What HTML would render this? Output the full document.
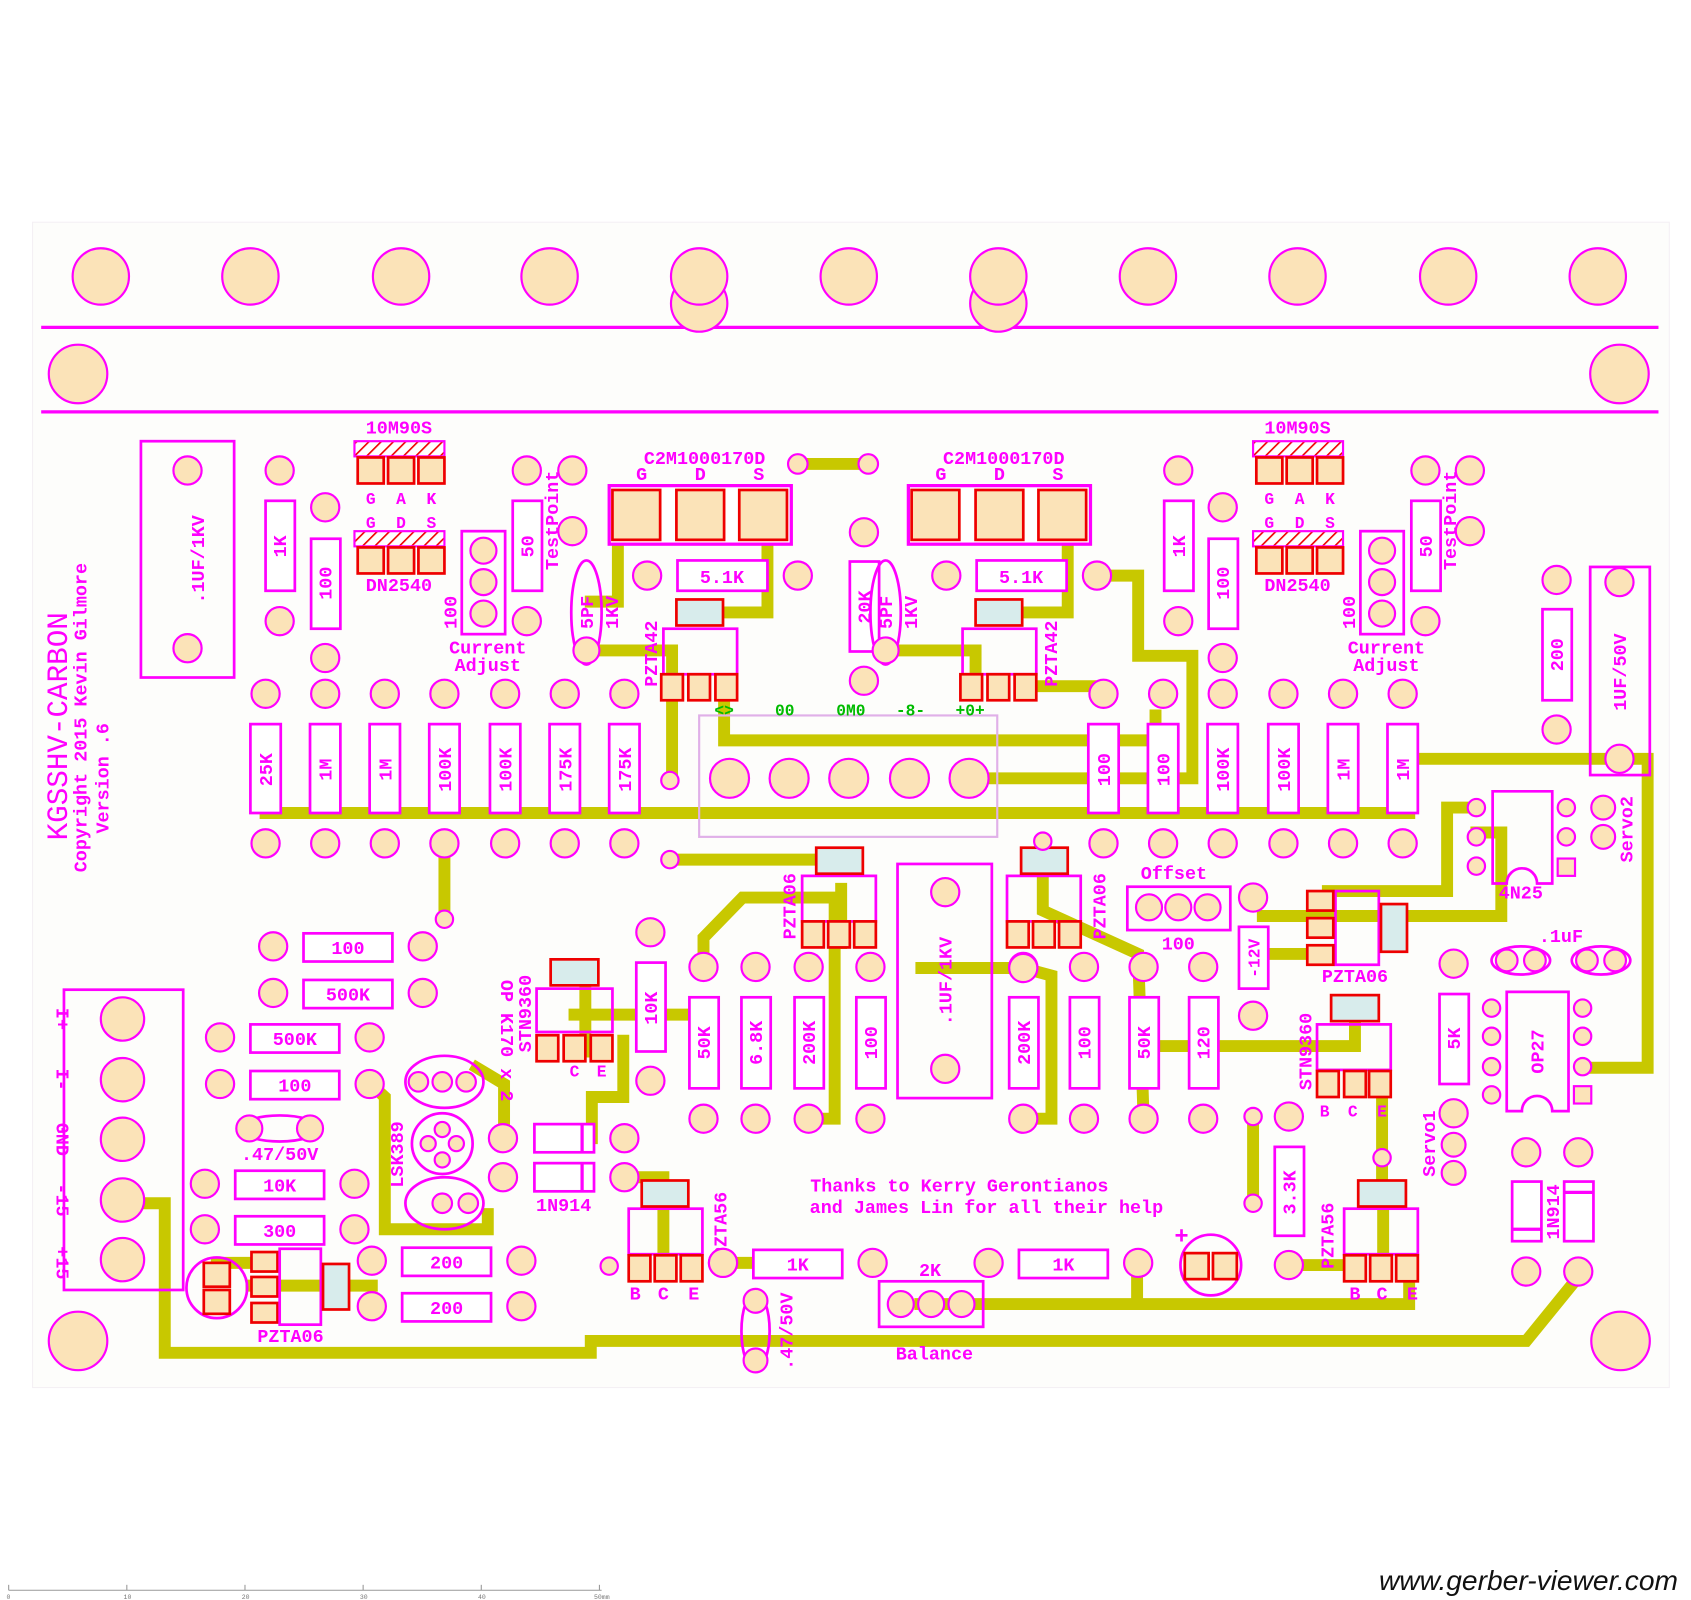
<!DOCTYPE html>
<html><head><meta charset="utf-8"><style>
html,body{margin:0;padding:0;background:#fff}
svg{display:block}
.p{fill:#fbe3b8;stroke:#f0f;stroke-width:2}
.r{fill:none;stroke:#f0f;stroke-width:2.5}
.rw{fill:#fff;stroke:#f0f;stroke-width:2.5}
.t{fill:none;stroke:#c8c800;stroke-width:11;stroke-linejoin:miter;stroke-linecap:square}
.sq{fill:#fbe3b8;stroke:#e00;stroke-width:2.5}
.tab{fill:#d8ecec;stroke:#e00;stroke-width:2.5}
text{font-family:"Liberation Mono",monospace;fill:#f0f;font-weight:bold}
.l{font-size:17px}
.s{font-size:15px}
</style></head><body>
<svg width="1691" height="1600" viewBox="0 0 1560 1476" preserveAspectRatio="none" xmlns="http://www.w3.org/2000/svg">
<defs>
<pattern id="h" width="8" height="8" patternUnits="userSpaceOnUse" patternTransform="rotate(45)"><rect width="8" height="8" fill="#fff"/><line x1="0" y1="0" x2="0" y2="8" stroke="#e00" stroke-width="3"/></pattern>
</defs>
<rect x="30" y="205" width="1510" height="1075" fill="#fdfdfb" stroke="#f4f0f4"/>
<line x1="38" y1="302" x2="1530" y2="302" stroke="#f0f" stroke-width="3"/>
<line x1="38" y1="380" x2="1530" y2="380" stroke="#f0f" stroke-width="3"/>

<!-- traces -->
<g class="t">
<polyline points="245,750 1300,750"/>
<polyline points="410,778 410,848"/>
<polyline points="736,428 801,428"/>
<polyline points="570,470 570,555 545,555"/>
<polyline points="541,600 620,600 620,720"/>
<polyline points="708,500 708,565 648,565"/>
<polyline points="668,652 668,683 1066,683 1066,660"/>
<polyline points="905,718 1100,718 1100,605 1050,605 1050,531 1025,531"/>
<polyline points="985,500 985,565 920,565"/>
<polyline points="831,600 900,600 900,625"/>
<polyline points="960,633 1018,633"/>
<polyline points="1300,750 1300,700 1520,700 1520,985 1460,985"/>
<polyline points="618,793 776,793"/>
<polyline points="649,892 649,865 685,828 770,828 770,1032 746,1032"/>
<polyline points="776,820 776,870"/>
<polyline points="962,780 962,840 1050,880 1055,1032"/>
<polyline points="850,893 944,893"/>
<polyline points="944,893 970,900 970,1032 944,1032"/>
<polyline points="1055,965 1250,965 1250,940"/>
<polyline points="1165,845 1385,845 1385,768 1362,768"/>
<polyline points="1225,822 1335,822 1335,745 1362,745"/>
<polyline points="1165,880 1220,880"/>
<polyline points="1156,1030 1156,1110"/>
<polyline points="1275,1010 1275,1100"/>
<polyline points="1189,1167 1240,1167"/>
<polyline points="530,936 655,936"/>
<polyline points="540,970 540,915"/>
<polyline points="546,1050 546,1012 575,1012 575,960"/>
<polyline points="576,1086 612,1086 612,1100"/>
<polyline points="612,1120 612,1165"/>
<polyline points="342,1000 355,1012 355,1134 450,1134 450,1120"/>
<polyline points="465,1050 465,1000 440,985"/>
<polyline points="232,1186 343,1186"/>
<polyline points="200,1165 232,1165"/>
<polyline points="113,1110 152,1110 152,1248 545,1248 545,1237 1408,1237 1456,1178"/>
<polyline points="849,1203 1300,1203 1300,1180"/>
<polyline points="1049,1165 1049,1203"/>
<polyline points="667,1165 700,1165"/>
<polyline points="1276,1120 1276,1160"/>
</g>

<!-- top pads -->
<g class="p">
<circle cx="93" cy="255" r="26"/><circle cx="231" cy="255" r="26"/><circle cx="370" cy="255" r="26"/><circle cx="507" cy="255" r="26"/>
<circle cx="645" cy="280" r="26"/><circle cx="645" cy="255" r="26"/><circle cx="783" cy="255" r="26"/>
<circle cx="921" cy="280" r="26"/><circle cx="921" cy="255" r="26"/><circle cx="1059" cy="255" r="26"/><circle cx="1197" cy="255" r="26"/><circle cx="1336" cy="255" r="26"/><circle cx="1474" cy="255" r="26"/>
<circle cx="72" cy="345" r="27"/><circle cx="1494" cy="345" r="27"/>
<circle cx="72" cy="1237" r="27"/><circle cx="1495" cy="1237" r="27"/>
</g>

<!-- left text -->
<text transform="translate(62,670) rotate(-90)" text-anchor="middle" style="font-size:27px;font-weight:normal">KGSSHV-CARBON</text>
<text transform="translate(80,662) rotate(-90)" text-anchor="middle" class="l">Copyright 2015 Kevin Gilmore</text>
<text transform="translate(100,718) rotate(-90)" text-anchor="middle" class="l">Version .6</text>

<!-- top-left cap -->
<rect x="130" y="407" width="86" height="218" class="r"/>
<circle class="p" cx="173" cy="434" r="13"/><circle class="p" cx="173" cy="598" r="13"/>
<text transform="translate(188,516) rotate(-90)" text-anchor="middle" class="l">.1UF/1KV</text>

<!-- vertical resistors generic -->
<g>
<!-- 1K -->
<rect x="245" y="462" width="27" height="83" class="rw"/><circle class="p" cx="258" cy="434" r="13"/><circle class="p" cx="258" cy="573" r="13"/>
<text transform="translate(264,504) rotate(-90)" text-anchor="middle" class="l">1K</text>
<rect x="287" y="497" width="27" height="83" class="rw"/><circle class="p" cx="300" cy="468" r="13"/><circle class="p" cx="300" cy="607" r="13"/>
<text transform="translate(306,538) rotate(-90)" text-anchor="middle" class="l">100</text>
<rect x="473" y="462" width="27" height="83" class="rw"/><circle class="p" cx="486" cy="434" r="13"/><circle class="p" cx="486" cy="573" r="13"/>
<text transform="translate(492,504) rotate(-90)" text-anchor="middle" class="l">50</text>
<circle class="p" cx="528" cy="434" r="13"/><circle class="p" cx="528" cy="490" r="13"/>
<text transform="translate(515,480) rotate(-90)" text-anchor="middle" class="l">TestPoint</text>

<rect x="1074" y="462" width="27" height="83" class="rw"/><circle class="p" cx="1087" cy="434" r="13"/><circle class="p" cx="1087" cy="573" r="13"/>
<text transform="translate(1093,504) rotate(-90)" text-anchor="middle" class="l">1K</text>
<rect x="1115" y="497" width="27" height="83" class="rw"/><circle class="p" cx="1128" cy="468" r="13"/><circle class="p" cx="1128" cy="607" r="13"/>
<text transform="translate(1134,538) rotate(-90)" text-anchor="middle" class="l">100</text>
<rect x="1302" y="462" width="27" height="83" class="rw"/><circle class="p" cx="1315" cy="434" r="13"/><circle class="p" cx="1315" cy="573" r="13"/>
<text transform="translate(1321,504) rotate(-90)" text-anchor="middle" class="l">50</text>
<circle class="p" cx="1356" cy="434" r="13"/><circle class="p" cx="1356" cy="490" r="13"/>
<text transform="translate(1343,480) rotate(-90)" text-anchor="middle" class="l">TestPoint</text>

<rect x="784" y="518" width="27" height="83" class="rw"/><circle class="p" cx="797" cy="491" r="13"/><circle class="p" cx="797" cy="628" r="13"/>
<text transform="translate(803,560) rotate(-90)" text-anchor="middle" class="l">20K</text>
<rect x="1423" y="562" width="27" height="84" class="rw"/><circle class="p" cx="1436" cy="535" r="13"/><circle class="p" cx="1436" cy="673" r="13"/>
<text transform="translate(1442,604) rotate(-90)" text-anchor="middle" class="l">200</text>
<rect x="1467" y="523" width="55" height="192" class="r"/><circle class="p" cx="1494" cy="537" r="13"/><circle class="p" cx="1494" cy="700" r="13"/>
<text transform="translate(1500,620) rotate(-90)" text-anchor="middle" class="l">1UF/50V</text>
</g>

<!-- 10M90S / DN2540 left & right -->
<g id="grp">
<text x="368" y="400" text-anchor="middle" class="l">10M90S</text>
<rect x="327" y="407" width="83" height="14" fill="url(#h)" stroke="#f0f" stroke-width="2"/>
<rect x="330" y="422" width="24" height="24" class="sq"/><rect x="358" y="422" width="24" height="24" class="sq"/><rect x="386" y="422" width="24" height="24" class="sq"/>
<text x="342" y="465" text-anchor="middle" class="s">G</text><text x="370" y="465" text-anchor="middle" class="s">A</text><text x="398" y="465" text-anchor="middle" class="s">K</text>
<text x="342" y="487" text-anchor="middle" class="s">G</text><text x="370" y="487" text-anchor="middle" class="s">D</text><text x="398" y="487" text-anchor="middle" class="s">S</text>
<rect x="327" y="490" width="83" height="14" fill="url(#h)" stroke="#f0f" stroke-width="2"/>
<rect x="330" y="505" width="24" height="24" class="sq"/><rect x="358" y="505" width="24" height="24" class="sq"/><rect x="386" y="505" width="24" height="24" class="sq"/>
<text x="368" y="545" text-anchor="middle" class="l">DN2540</text>
<rect x="426" y="490" width="40" height="95" class="r"/>
<circle class="p" cx="446" cy="508" r="12"/><circle class="p" cx="446" cy="537" r="12"/><circle class="p" cx="446" cy="566" r="12"/>
<text transform="translate(421,565) rotate(-90)" text-anchor="middle" class="l">100</text>
<text x="450" y="603" text-anchor="middle" class="l">Current</text>
<text x="450" y="619" text-anchor="middle" class="l">Adjust</text>
</g>
<use href="#grp" transform="translate(829,0)"/>

<!-- C2M packages -->
<g id="c2m">
<text x="650" y="428" text-anchor="middle" class="l">C2M1000170D</text>
<text x="592" y="443" text-anchor="middle" class="l">G</text><text x="646" y="443" text-anchor="middle" class="l">D</text><text x="700" y="443" text-anchor="middle" class="l">S</text>
<rect x="562" y="448" width="168" height="54" fill="#fff" stroke="#f0f" stroke-width="3"/>
<rect x="565" y="452" width="44" height="46" class="sq"/><rect x="624" y="452" width="44" height="46" class="sq"/><rect x="682" y="452" width="44" height="46" class="sq"/>
<rect x="625" y="517" width="83" height="28" class="rw"/><circle class="p" cx="597" cy="531" r="13"/><circle class="p" cx="736" cy="531" r="13"/>
<text x="666" y="538" text-anchor="middle" class="l">5.1K</text>
<ellipse cx="541" cy="565" rx="14" ry="48" class="r"/><circle class="p" cx="541" cy="600" r="12"/>
<text transform="translate(547,565) rotate(-90)" text-anchor="middle" class="l">5PF</text>
<text transform="translate(570,565) rotate(-90)" text-anchor="middle" class="l">1KV</text>
<rect x="612" y="580" width="68" height="42" class="r"/>
<rect x="624" y="553" width="43" height="24" class="tab"/>
<rect x="610" y="622" width="20" height="24" class="sq"/><rect x="635" y="622" width="20" height="24" class="sq"/><rect x="660" y="622" width="20" height="24" class="sq"/>
</g>
<use href="#c2m" transform="translate(276,0)"/>
<text transform="translate(606,603) rotate(-90)" text-anchor="middle" class="l">PZTA42</text>
<text transform="translate(975,603) rotate(-90)" text-anchor="middle" class="l">PZTA42</text>
<circle class="p" cx="736" cy="428" r="9"/><circle class="p" cx="801" cy="428" r="9"/>
<circle class="p" cx="618" cy="720" r="8"/>

<!-- connector -->
<rect x="645" y="660" width="275" height="112" fill="none" stroke="#e0b0e8" stroke-width="2"/>
<text x="668" y="660" text-anchor="middle" class="s" style="fill:#0b0">&lt;&gt;</text>
<text x="724" y="660" text-anchor="middle" class="s" style="fill:#0b0">00</text>
<text x="785" y="660" text-anchor="middle" class="s" style="fill:#0b0">0M0</text>
<text x="840" y="660" text-anchor="middle" class="s" style="fill:#0b0">-8-</text>
<text x="895" y="660" text-anchor="middle" class="s" style="fill:#0b0">+0+</text>
<g class="p"><circle cx="673" cy="718" r="18"/><circle cx="728" cy="718" r="18"/><circle cx="783" cy="718" r="18"/><circle cx="839" cy="718" r="18"/><circle cx="894" cy="718" r="18"/></g>

<!-- row resistors -->
<g id="rr">
<rect x="231" y="668" width="28" height="82" class="rw"/><circle class="p" cx="245" cy="640" r="13"/><circle class="p" cx="245" cy="778" r="13"/>
</g>
<use href="#rr" transform="translate(55,0)"/><use href="#rr" transform="translate(110,0)"/><use href="#rr" transform="translate(165,0)"/><use href="#rr" transform="translate(221,0)"/><use href="#rr" transform="translate(276,0)"/><use href="#rr" transform="translate(331,0)"/>
<use href="#rr" transform="translate(773,0)"/><use href="#rr" transform="translate(828,0)"/><use href="#rr" transform="translate(883,0)"/><use href="#rr" transform="translate(939,0)"/><use href="#rr" transform="translate(994,0)"/><use href="#rr" transform="translate(1049,0)"/>
<g class="l" text-anchor="middle">
<text transform="translate(251,710) rotate(-90)">25K</text>
<text transform="translate(306,710) rotate(-90)">1M</text>
<text transform="translate(361,710) rotate(-90)">1M</text>
<text transform="translate(416,710) rotate(-90)">100K</text>
<text transform="translate(472,710) rotate(-90)">100K</text>
<text transform="translate(527,710) rotate(-90)">175K</text>
<text transform="translate(582,710) rotate(-90)">175K</text>
<text transform="translate(1024,710) rotate(-90)">100</text>
<text transform="translate(1079,710) rotate(-90)">100</text>
<text transform="translate(1134,710) rotate(-90)">100K</text>
<text transform="translate(1190,710) rotate(-90)">100K</text>
<text transform="translate(1245,710) rotate(-90)">1M</text>
<text transform="translate(1300,710) rotate(-90)">1M</text>
</g>
<circle class="p" cx="410" cy="848" r="8"/>

<!-- left horizontal resistors -->
<g id="hr"><rect x="280" y="861" width="82" height="26" class="rw"/><circle class="p" cx="252" cy="873" r="13"/><circle class="p" cx="390" cy="873" r="13"/></g>
<use href="#hr" transform="translate(0,43)"/>
<use href="#hr" transform="translate(-49,84)"/><use href="#hr" transform="translate(-49,127)"/>
<use href="#hr" transform="translate(-63,219)"/><use href="#hr" transform="translate(-63,261)"/>
<use href="#hr" transform="translate(91,290)"/><use href="#hr" transform="translate(91,332)"/>
<use href="#hr" transform="translate(415,292)"/><use href="#hr" transform="translate(660,292)"/>
<g class="l" text-anchor="middle">
<text x="321" y="880">100</text><text x="321" y="923">500K</text><text x="272" y="964">500K</text><text x="272" y="1007">100</text>
<text x="258" y="1099">10K</text><text x="258" y="1141">300</text><text x="412" y="1170">200</text><text x="412" y="1212">200</text>
<text x="736" y="1172">1K</text><text x="981" y="1172">1K</text>
</g>
<ellipse cx="258" cy="1041" rx="36" ry="12" class="r"/><circle class="p" cx="230" cy="1041" r="12"/><circle class="p" cx="286" cy="1041" r="12"/>
<text x="258" y="1070" text-anchor="middle" class="l">.47/50V</text>

<!-- input connector -->
<rect x="59" y="913" width="110" height="277" class="r"/>
<g class="p"><circle cx="113" cy="940" r="20"/><circle cx="113" cy="996" r="20"/><circle cx="113" cy="1051" r="20"/><circle cx="113" cy="1107" r="20"/><circle cx="113" cy="1162" r="20"/></g>
<g class="l" text-anchor="middle">
<text transform="translate(52,940) rotate(90)">I+</text><text transform="translate(52,996) rotate(90)">I-</text><text transform="translate(52,1051) rotate(90)">GND</text><text transform="translate(52,1107) rotate(90)">-15</text><text transform="translate(52,1165) rotate(90)">+15</text>
</g>

<!-- PZTA06 bottom-left -->
<circle cx="200" cy="1188" r="28" class="r"/>
<rect x="188" y="1165" width="24" height="22" class="sq"/><rect x="188" y="1190" width="24" height="22" class="sq"/>
<rect x="232" y="1155" width="24" height="18" class="sq"/><rect x="232" y="1178" width="24" height="18" class="sq"/><rect x="232" y="1202" width="24" height="18" class="sq"/>
<rect x="258" y="1152" width="38" height="70" class="r"/><rect x="298" y="1166" width="24" height="42" class="tab"/>
<text x="268" y="1238" text-anchor="middle" class="l">PZTA06</text>

<!-- LSK389 / OPK170 -->
<ellipse cx="410" cy="998" rx="36" ry="24" class="r"/><circle class="p" cx="408" cy="998" r="9"/><circle class="p" cx="430" cy="998" r="9"/><circle class="p" cx="386" cy="998" r="9"/>
<circle cx="408" cy="1055" r="28" class="r"/><circle class="p" cx="408" cy="1042" r="7"/><circle class="p" cx="395" cy="1055" r="7"/><circle class="p" cx="421" cy="1055" r="7"/><circle class="p" cx="408" cy="1070" r="7"/>
<ellipse cx="410" cy="1110" rx="36" ry="24" class="r"/><circle class="p" cx="408" cy="1110" r="9"/><circle class="p" cx="432" cy="1110" r="9"/>
<text transform="translate(372,1065) rotate(-90)" text-anchor="middle" class="l">LSK389</text>
<text transform="translate(462,960) rotate(90)" text-anchor="middle" class="l">OP K170 x 2</text>
<circle class="p" cx="464" cy="1050" r="13"/><circle class="p" cx="576" cy="1050" r="13"/><circle class="p" cx="464" cy="1086" r="13"/><circle class="p" cx="576" cy="1086" r="13"/>
<rect x="493" y="1037" width="55" height="26" class="rw"/><rect x="493" y="1073" width="55" height="26" class="rw"/>
<line x1="537" y1="1037" x2="537" y2="1063" stroke="#f0f" stroke-width="3"/><line x1="537" y1="1073" x2="537" y2="1099" stroke="#f0f" stroke-width="3"/>
<text x="520" y="1117" text-anchor="middle" class="l">1N914</text>

<!-- STN9360 left -->
<rect x="495" y="912" width="70" height="40" class="r"/><rect x="508" y="885" width="44" height="24" class="tab"/>
<rect x="495" y="955" width="20" height="24" class="sq"/><rect x="520" y="955" width="20" height="24" class="sq"/><rect x="545" y="955" width="20" height="24" class="sq"/>
<text transform="translate(490,935) rotate(-90)" text-anchor="middle" class="l">STN9360</text>
<text x="530" y="993" text-anchor="middle" class="s">C</text><text x="555" y="993" text-anchor="middle" class="s">E</text>
<rect x="587" y="888" width="27" height="82" class="rw"/><circle class="p" cx="600" cy="860" r="13"/><circle class="p" cx="600" cy="997" r="13"/>
<text transform="translate(606,930) rotate(-90)" text-anchor="middle" class="l">10K</text>

<!-- PZTA56 left -->
<rect x="580" y="1115" width="68" height="42" class="r"/><rect x="592" y="1089" width="43" height="24" class="tab"/>
<rect x="580" y="1158" width="20" height="24" class="sq"/><rect x="604" y="1158" width="20" height="24" class="sq"/><rect x="628" y="1158" width="20" height="24" class="sq"/>
<text x="586" y="1199" text-anchor="middle" class="l">B</text><text x="612" y="1199" text-anchor="middle" class="l">C</text><text x="640" y="1199" text-anchor="middle" class="l">E</text>
<text transform="translate(670,1130) rotate(-90)" text-anchor="middle" class="l">PZTA56</text>
<circle class="p" cx="562" cy="1168" r="8"/><circle class="p" cx="667" cy="1165" r="13"/>
<ellipse cx="697" cy="1228" rx="13" ry="36" class="r"/><circle class="p" cx="697" cy="1200" r="11"/><circle class="p" cx="697" cy="1255" r="11"/>
<text transform="translate(731,1228) rotate(-90)" text-anchor="middle" class="l">.47/50V</text>

<!-- Balance -->
<rect x="811" y="1182" width="96" height="42" class="r"/>
<g class="p"><circle cx="831" cy="1203" r="12"/><circle cx="859" cy="1203" r="12"/><circle cx="887" cy="1203" r="12"/></g>
<text x="858" y="1177" text-anchor="middle" class="l">2K</text>
<text x="862" y="1254" text-anchor="middle" class="l">Balance</text>

<circle cx="1117" cy="1167" r="28" class="r"/><rect x="1093" y="1156" width="22" height="24" class="sq"/><rect x="1119" y="1156" width="22" height="24" class="sq"/>
<text x="1090" y="1147" text-anchor="middle" style="font-size:22px">+</text>

<text x="885" y="1099" text-anchor="middle" class="l">Thanks to Kerry Gerontianos</text>
<text x="910" y="1119" text-anchor="middle" class="l">and James Lin for all their help</text>

<!-- middle resistors row -->
<g id="mr"><rect x="636" y="920" width="27" height="84" class="rw"/><circle class="p" cx="649" cy="892" r="13"/><circle class="p" cx="649" cy="1032" r="13"/></g>
<use href="#mr" transform="translate(48,0)"/><use href="#mr" transform="translate(97,0)"/><use href="#mr" transform="translate(154,0)"/>
<use href="#mr" transform="translate(295,0)"/><use href="#mr" transform="translate(351,0)"/><use href="#mr" transform="translate(406,0)"/><use href="#mr" transform="translate(461,0)"/>
<g class="l" text-anchor="middle">
<text transform="translate(655,962) rotate(-90)">50K</text><text transform="translate(703,962) rotate(-90)">6.8K</text><text transform="translate(752,962) rotate(-90)">200K</text><text transform="translate(809,962) rotate(-90)">100</text>
<text transform="translate(950,962) rotate(-90)">200K</text><text transform="translate(1006,962) rotate(-90)">100</text><text transform="translate(1061,962) rotate(-90)">50K</text><text transform="translate(1116,962) rotate(-90)">120</text>
</g>
<rect x="828" y="797" width="87" height="216" class="r"/><circle class="p" cx="872" cy="823" r="13"/><circle class="p" cx="872" cy="986" r="13"/>
<text transform="translate(878,905) rotate(-90)" text-anchor="middle" class="l">.1UF/1KV</text>
<circle class="p" cx="944" cy="893" r="13"/><circle class="p" cx="618" cy="793" r="8"/>

<!-- PZTA06 center -->
<g id="p06">
<rect x="740" y="808" width="68" height="42" class="r"/><rect x="753" y="782" width="43" height="24" class="tab"/>
<rect x="740" y="850" width="20" height="24" class="sq"/><rect x="764" y="850" width="20" height="24" class="sq"/><rect x="788" y="850" width="20" height="24" class="sq"/>
</g>
<use href="#p06" transform="translate(189,0)"/>
<text transform="translate(734,836) rotate(-90)" text-anchor="middle" class="l">PZTA06</text>
<text transform="translate(1020,836) rotate(-90)" text-anchor="middle" class="l">PZTA06</text>
<circle class="p" cx="962" cy="776" r="8"/>

<!-- Offset -->
<text x="1083" y="811" text-anchor="middle" class="l">Offset</text>
<rect x="1040" y="818" width="95" height="40" class="r"/>
<g class="p"><circle cx="1060" cy="837" r="12"/><circle cx="1087" cy="837" r="12"/><circle cx="1114" cy="837" r="12"/></g>
<text x="1087" y="876" text-anchor="middle" class="l">100</text>

<!-- -12V zener -->
<rect x="1143" y="855" width="27" height="57" class="rw"/><circle class="p" cx="1156" cy="828" r="13"/><circle class="p" cx="1156" cy="937" r="13"/>
<text transform="translate(1162,884) rotate(-90)" text-anchor="middle" class="s">-12V</text>

<!-- PZTA06 right -->
<rect x="1232" y="822" width="40" height="68" class="r"/>
<rect x="1206" y="822" width="24" height="18" class="sq"/><rect x="1206" y="847" width="24" height="18" class="sq"/><rect x="1206" y="872" width="24" height="18" class="sq"/>
<rect x="1274" y="834" width="24" height="44" class="tab"/>
<text x="1250" y="906" text-anchor="middle" class="l">PZTA06</text>

<!-- 4N25 -->
<path d="M1377,730 H1432 V815 H1418 A14,14 0 0 0 1390,815 H1377 Z" class="r"/>
<circle class="p" cx="1362" cy="745" r="8"/><circle class="p" cx="1362" cy="772" r="8"/><circle class="p" cx="1362" cy="799" r="8"/>
<circle class="p" cx="1445" cy="745" r="8"/><circle class="p" cx="1445" cy="772" r="8"/><rect x="1437" y="792" width="16" height="16" class="p"/>
<text x="1403" y="829" text-anchor="middle" class="l">4N25</text>
<circle class="p" cx="1479" cy="745" r="11"/><circle class="p" cx="1479" cy="772" r="11"/>
<text transform="translate(1506,765) rotate(-90)" text-anchor="middle" class="l">Servo2</text>

<!-- .1uF caps -->
<ellipse cx="1403" cy="886" rx="27" ry="13" class="r"/><circle class="p" cx="1390" cy="886" r="10"/><circle class="p" cx="1416" cy="886" r="10"/>
<ellipse cx="1477" cy="886" rx="27" ry="13" class="r"/><circle class="p" cx="1464" cy="886" r="10"/><circle class="p" cx="1490" cy="886" r="10"/>
<text x="1440" y="869" text-anchor="middle" class="l">.1uF</text>

<!-- OP27 -->
<path d="M1390,915 H1447 V1025 H1432 A14,14 0 0 0 1404,1025 H1390 Z" class="r"/>
<text transform="translate(1424,970) rotate(-90)" text-anchor="middle" class="l">OP27</text>
<g class="p"><circle cx="1376" cy="930" r="8"/><circle cx="1376" cy="956" r="8"/><circle cx="1376" cy="984" r="8"/><circle cx="1376" cy="1010" r="8"/>
<circle cx="1460" cy="930" r="8"/><circle cx="1460" cy="956" r="8"/><circle cx="1460" cy="984" r="8"/><rect x="1452" y="1002" width="16" height="16"/></g>

<rect x="1328" y="917" width="27" height="83" class="rw"/><circle class="p" cx="1341" cy="889" r="13"/><circle class="p" cx="1341" cy="1027" r="13"/>
<text transform="translate(1347,958) rotate(-90)" text-anchor="middle" class="l">5K</text>
<circle class="p" cx="1341" cy="1056" r="11"/><circle class="p" cx="1341" cy="1082" r="11"/>
<text transform="translate(1324,1055) rotate(-90)" text-anchor="middle" class="l">Servo1</text>

<!-- STN9360 right -->
<rect x="1215" y="945" width="68" height="42" class="r"/><rect x="1228" y="918" width="44" height="24" class="tab"/>
<rect x="1215" y="988" width="20" height="24" class="sq"/><rect x="1240" y="988" width="20" height="24" class="sq"/><rect x="1263" y="988" width="20" height="24" class="sq"/>
<text transform="translate(1210,970) rotate(-90)" text-anchor="middle" class="l">STN9360</text>
<text x="1222" y="1030" text-anchor="middle" class="s">B</text><text x="1248" y="1030" text-anchor="middle" class="s">C</text><text x="1275" y="1030" text-anchor="middle" class="s">E</text>
<circle class="p" cx="1189" cy="1030" r="13"/>
<rect x="1176" y="1058" width="27" height="82" class="rw"/><circle class="p" cx="1189" cy="1167" r="13"/>
<text transform="translate(1195,1100) rotate(-90)" text-anchor="middle" class="l">3.3K</text>
<circle class="p" cx="1156" cy="1030" r="8"/><circle class="p" cx="1156" cy="1110" r="8"/>
<circle class="p" cx="1275" cy="1068" r="8"/>

<!-- PZTA56 right -->
<rect x="1240" y="1115" width="68" height="42" class="r"/><rect x="1253" y="1089" width="44" height="24" class="tab"/>
<rect x="1240" y="1158" width="20" height="24" class="sq"/><rect x="1264" y="1158" width="20" height="24" class="sq"/><rect x="1288" y="1158" width="20" height="24" class="sq"/>
<text x="1250" y="1199" text-anchor="middle" class="l">B</text><text x="1275" y="1199" text-anchor="middle" class="l">C</text><text x="1303" y="1199" text-anchor="middle" class="l">E</text>
<text transform="translate(1230,1140) rotate(-90)" text-anchor="middle" class="l">PZTA56</text>

<!-- 1N914 right -->
<rect x="1395" y="1090" width="27" height="55" class="rw"/><rect x="1443" y="1090" width="27" height="55" class="rw"/>
<line x1="1395" y1="1134" x2="1422" y2="1134" stroke="#f0f" stroke-width="3"/><line x1="1443" y1="1100" x2="1470" y2="1100" stroke="#f0f" stroke-width="3"/>
<g class="p"><circle cx="1408" cy="1063" r="13"/><circle cx="1408" cy="1173" r="13"/><circle cx="1456" cy="1063" r="13"/><circle cx="1456" cy="1173" r="13"/></g>
<text transform="translate(1438,1118) rotate(-90)" text-anchor="middle" class="l">1N914</text>

<!-- ruler & watermark -->
<line x1="8" y1="1467" x2="555" y2="1467" stroke="#999" stroke-width="1"/>
<g stroke="#999" stroke-width="1"><line x1="8" y1="1462" x2="8" y2="1467"/><line x1="117" y1="1462" x2="117" y2="1467"/><line x1="226" y1="1462" x2="226" y2="1467"/><line x1="335" y1="1462" x2="335" y2="1467"/><line x1="444" y1="1462" x2="444" y2="1467"/><line x1="553" y1="1462" x2="553" y2="1467"/></g>
<g style="font-family:'Liberation Sans',sans-serif;font-size:6px;fill:#777"><text x="6" y="1475" style="fill:#777;font-weight:normal;font-size:6px">0</text><text x="114" y="1475" style="fill:#777;font-weight:normal;font-size:6px">10</text><text x="223" y="1475" style="fill:#777;font-weight:normal;font-size:6px">20</text><text x="332" y="1475" style="fill:#777;font-weight:normal;font-size:6px">30</text><text x="441" y="1475" style="fill:#777;font-weight:normal;font-size:6px">40</text><text x="548" y="1475" style="fill:#777;font-weight:normal;font-size:6px">50mm</text></g>
<text x="1548" y="1467" text-anchor="end" style="font-family:'Liberation Sans',sans-serif;font-style:italic;font-weight:normal;font-size:26px;fill:#111">www.gerber-viewer.com</text>
</svg>
</body></html>
